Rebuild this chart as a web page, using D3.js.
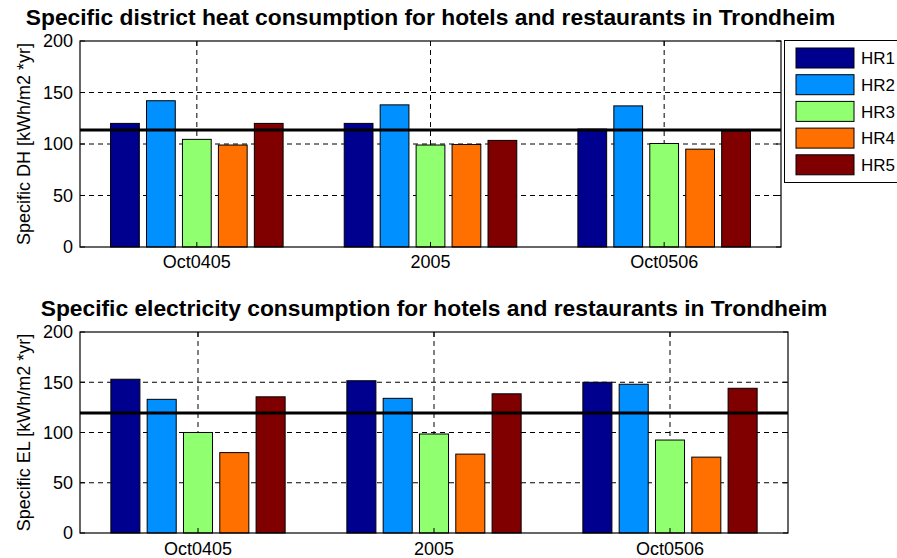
<!DOCTYPE html>
<html>
<head>
<meta charset="utf-8">
<script src="https://cdn.jsdelivr.net/npm/d3@7"></script>
<style>
  html, body { margin: 0; padding: 0; background: #fff; }
  svg { display: block; }
  text { font-family: "Liberation Sans", Arial, sans-serif; fill: #000; }
</style>
</head>
<body>
<svg id="chart" width="897" height="558"></svg>
<script>
// ---- data ----
const categories = ["Oct0405", "2005", "Oct0506"];
const seriesNames = ["HR1", "HR2", "HR3", "HR4", "HR5"];
const seriesColors = ["#00008F", "#0090FF", "#90FF70", "#FF7000", "#800000"];
const yTicks = [0, 50, 100, 150, 200];

// Specific district heat [kWh/m2 *yr]
const dhHR1 = [120, 120, 114.5];
const dhHR2 = [142, 138, 137];
const dhHR3 = [104.5, 99, 100.5];
const dhHR4 = [99, 99.5, 95];
const dhHR5 = [120, 103.5, 112.5];
const dhAverage = 113.5;

// Specific electricity [kWh/m2 *yr]
const elHR1 = [153, 151.5, 150];
const elHR2 = [133, 134, 148];
const elHR3 = [100, 98.5, 92.5];
const elHR4 = [80, 78.5, 75.5];
const elHR5 = [135.5, 138.5, 144];
const elAverage = 119.5;

const svg = d3.select("#chart");

function drawPanel(opts) {
  const { left, right, top, bottom, series, average, title, titleY, yLabel, xLabelY } = opts;
  const g = svg.append("g");
  const x = d3.scaleLinear().domain([0.5, categories.length + 0.5]).range([left, right]);
  const y = d3.scaleLinear().domain([0, 200]).range([bottom, top]);

  const nS = series.length;
  const groupWidth = Math.min(0.8, nS / (nS + 1.5));
  const step = groupWidth / nS;
  const barW = step * 0.8;

  // grid
  g.append("g").selectAll("line").data(yTicks.filter(t => t > 0 && t < 200)).join("line")
    .attr("x1", left).attr("x2", right)
    .attr("y1", d => y(d)).attr("y2", d => y(d))
    .attr("stroke", "#000").attr("stroke-width", 1).attr("stroke-dasharray", "5,4");
  g.append("g").selectAll("line").data(categories).join("line")
    .attr("x1", (d, i) => x(i + 1)).attr("x2", (d, i) => x(i + 1))
    .attr("y1", top).attr("y2", bottom)
    .attr("stroke", "#000").attr("stroke-width", 1).attr("stroke-dasharray", "5,4");

  // bars
  series.forEach((vals, s) => {
    g.append("g").selectAll("rect").data(vals).join("rect")
      .attr("x", (d, i) => x(i + 1 + (s - (nS - 1) / 2) * step - barW / 2))
      .attr("width", x(barW) - x(0))
      .attr("y", d => y(d))
      .attr("height", d => y(0) - y(d))
      .attr("fill", seriesColors[s])
      .attr("stroke", "#000").attr("stroke-width", 1);
  });

  // average line
  g.append("line")
    .attr("x1", left).attr("x2", right)
    .attr("y1", y(average)).attr("y2", y(average))
    .attr("stroke", "#000").attr("stroke-width", 3);

  // ticks inward
  yTicks.forEach(t => {
    g.append("line").attr("x1", left).attr("x2", left + 5).attr("y1", y(t)).attr("y2", y(t)).attr("stroke", "#000");
    g.append("line").attr("x1", right).attr("x2", right - 5).attr("y1", y(t)).attr("y2", y(t)).attr("stroke", "#000");
  });
  categories.forEach((c, i) => {
    g.append("line").attr("x1", x(i + 1)).attr("x2", x(i + 1)).attr("y1", bottom).attr("y2", bottom - 5).attr("stroke", "#000");
    g.append("line").attr("x1", x(i + 1)).attr("x2", x(i + 1)).attr("y1", top).attr("y2", top + 5).attr("stroke", "#000");
  });

  // box
  g.append("rect").attr("x", left).attr("y", top).attr("width", right - left).attr("height", bottom - top)
    .attr("fill", "none").attr("stroke", "#000").attr("stroke-width", 1.2);

  // tick labels
  g.append("g").selectAll("text").data(yTicks).join("text")
    .attr("x", left - 7).attr("y", d => y(d)).attr("dy", "0.35em")
    .attr("text-anchor", "end").style("font-size", "18px").text(d => d);
  g.append("g").selectAll("text").data(categories).join("text")
    .attr("x", (d, i) => x(i + 1)).attr("y", xLabelY)
    .attr("text-anchor", "middle").style("font-size", "18px").text(d => d);

  // y label
  g.append("text")
    .attr("transform", `translate(30,${(top + bottom) / 2}) rotate(-90)`)
    .attr("text-anchor", "middle").style("font-size", "18px").text(yLabel);

  // title
  g.append("text")
    .attr("x", (left + right) / 2).attr("y", titleY)
    .attr("text-anchor", "middle").style("font-size", "22.8px").style("font-weight", "bold").text(title);
}

drawPanel({
  left: 80, right: 781, top: 41, bottom: 247,
  series: [dhHR1, dhHR2, dhHR3, dhHR4, dhHR5],
  average: dhAverage,
  title: "Specific district heat consumption for hotels and restaurants in Trondheim",
  titleY: 25,
  yLabel: "Specific DH [kWh/m2 *yr]",
  xLabelY: 268
});

drawPanel({
  left: 80, right: 788, top: 332, bottom: 533,
  series: [elHR1, elHR2, elHR3, elHR4, elHR5],
  average: elAverage,
  title: "Specific electricity consumption for hotels and restaurants in Trondheim",
  titleY: 316,
  yLabel: "Specific EL [kWh/m2 *yr]",
  xLabelY: 555
});

// legend
const legend = svg.append("g");
legend.append("rect").attr("x", 784.5).attr("y", 40.5).attr("width", 130).attr("height", 142)
  .attr("fill", "#fff").attr("stroke", "#000").attr("stroke-width", 1);
seriesNames.forEach((name, i) => {
  const cy = 58 + i * 26.7;
  legend.append("rect").attr("x", 796).attr("y", cy - 10).attr("width", 58).attr("height", 20)
    .attr("fill", seriesColors[i]).attr("stroke", "#000").attr("stroke-width", 1);
  legend.append("text").attr("x", 861).attr("y", cy).attr("dy", "0.36em")
    .style("font-size", "17px").text(name);
});
</script>
</body>
</html>
